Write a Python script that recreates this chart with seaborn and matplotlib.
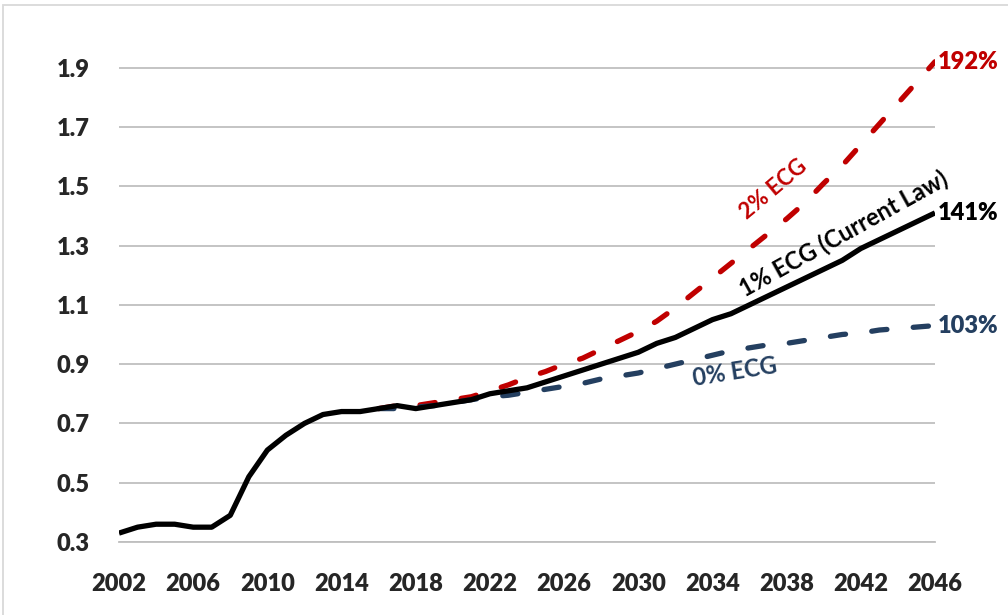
import matplotlib
matplotlib.use("Agg")
import matplotlib.pyplot as plt
import seaborn as sns
import pandas as pd
from matplotlib.patches import Rectangle

# Debt ratio paths under three ECG assumptions
years = list(range(2002, 2047))
current_law = [0.33, 0.35, 0.36, 0.36, 0.35, 0.35, 0.39, 0.52, 0.61, 0.66,
               0.70, 0.73, 0.74, 0.74, 0.75, 0.76, 0.75, 0.76, 0.77, 0.78,
               0.80, 0.81, 0.82, 0.84, 0.86, 0.88, 0.90, 0.92, 0.94, 0.97,
               0.99, 1.02, 1.05, 1.07, 1.10, 1.13, 1.16, 1.19, 1.22, 1.25,
               1.29, 1.32, 1.35, 1.38, 1.41]

proj_years = list(range(2016, 2047))
ecg_2pct = [0.75, 0.76, 0.76, 0.77, 0.78, 0.79, 0.81, 0.83, 0.855, 0.875,
            0.90, 0.92, 0.95, 0.98, 1.01, 1.045, 1.09, 1.14, 1.19, 1.24,
            1.29, 1.34, 1.39, 1.445, 1.51, 1.57, 1.64, 1.71, 1.78, 1.85, 1.92]
ecg_0pct = [0.75, 0.75, 0.755, 0.76, 0.77, 0.78, 0.79, 0.795, 0.805, 0.815,
            0.825, 0.835, 0.85, 0.86, 0.87, 0.885, 0.90, 0.915, 0.93, 0.945,
            0.955, 0.965, 0.97, 0.98, 0.99, 1.0, 1.005, 1.015, 1.02, 1.025, 1.03]

y_ticks = [0.3, 0.5, 0.7, 0.9, 1.1, 1.3, 1.5, 1.7, 1.9]
x_label_years = list(range(2002, 2047, 4))

RED = "#C00000"
NAVY = "#243F60"
GRID = "#BFBFBF"

sns.set_style("white")
plt.rcParams['font.family'] = ['Lato', 'DejaVu Sans']
plt.rcParams['lines.scale_dashes'] = False

df_cl = pd.DataFrame({"year": years, "ratio": current_law})
df_proj = pd.DataFrame({"year": proj_years, "ecg2": ecg_2pct, "ecg0": ecg_0pct})

fig = plt.figure(figsize=(10.08, 6.15), dpi=100)
ax = fig.add_axes([119 / 1008, 1 - 542 / 615, (935 - 119) / 1008, (542 - 38) / 615])

dash = (0, (11, 19))
sns.lineplot(data=df_proj, x="year", y="ecg2", ax=ax, color=RED, lw=3.8,
             linestyle=dash, dash_capstyle="round", zorder=3)
sns.lineplot(data=df_proj, x="year", y="ecg0", ax=ax, color=NAVY, lw=3.8,
             linestyle=dash, dash_capstyle="round", zorder=3)
sns.lineplot(data=df_cl, x="year", y="ratio", ax=ax, color="black", lw=3.8,
             solid_capstyle="butt", zorder=4)

ax.set_xlim(2002, 2046)
ax.set_ylim(0.3, 2.0)
ax.set_xlabel("")
ax.set_ylabel("")

# gridlines
ax.set_yticks(y_ticks)
ax.set_yticklabels([f"{v:.1f}" for v in y_ticks], fontweight="heavy", fontsize=17)
ax.yaxis.grid(True, color=GRID, lw=1.3)
ax.set_axisbelow(True)
ax.tick_params(axis="y", length=0, pad=21)

ax.set_xticks(years)
ax.set_xticklabels([str(y) if y in x_label_years else "" for y in years],
                   fontweight="heavy", fontsize=17)
ax.tick_params(axis="x", direction="in", length=6.5, width=1, color=GRID, pad=22)

for s in ["top", "right", "left"]:
    ax.spines[s].set_visible(False)
ax.spines["bottom"].set_color(GRID)
ax.spines["bottom"].set_linewidth(1.3)

# end-point labels
ax.text(2046.15, ecg_2pct[-1], "192%", color=RED, fontsize=17, fontweight="heavy",
        va="center", ha="left", clip_on=False)
ax.text(2046.15, current_law[-1], "141%", color="black", fontsize=17, fontweight="heavy",
        va="center", ha="left", clip_on=False)
ax.text(2046.15, ecg_0pct[-1], "103%", color=NAVY, fontsize=17, fontweight="heavy",
        va="center", ha="left", clip_on=False)

# series labels along the lines
ax.text(2037.3, 1.49, "2% ECG", color=RED, fontsize=16, fontweight="bold",
        rotation=40, ha="center", va="center", rotation_mode="anchor")
ax.text(2041.1, 1.34, "1% ECG (Current Law)", color="black", fontsize=17,
        fontweight="bold", rotation=29, ha="center", va="center",
        rotation_mode="anchor")
ax.text(2035.2, 0.873, "0% ECG", color=NAVY, fontsize=17, fontweight="bold",
        rotation=9, ha="center", va="center", rotation_mode="anchor")

# chart border
fig.patches.append(Rectangle((3 / 1008, -0.1), 1.2, 1.1 - 5 / 615, transform=fig.transFigure,
                             fill=False, edgecolor="#D9D9D9", lw=1.3, figure=fig))

fig.savefig("out.png", dpi=100)
